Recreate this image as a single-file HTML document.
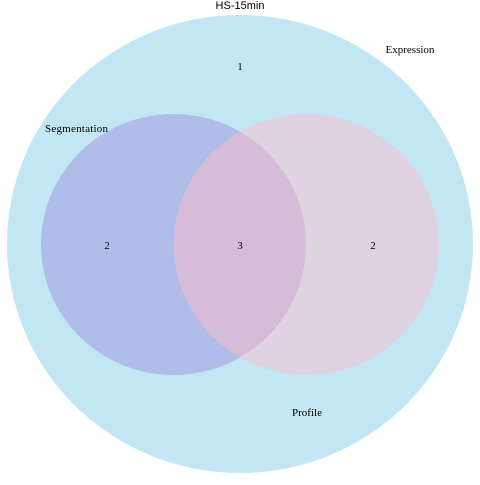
<!DOCTYPE html>
<html><head><meta charset="utf-8"><style>
body{margin:0;background:#fff;width:480px;height:480px;overflow:hidden}
svg text{font-family:"Liberation Serif",serif;font-size:11px;fill:#000}
</style></head><body>
<svg width="480" height="480">
<text x="240" y="9" text-anchor="middle" style="font-family:'Liberation Sans',sans-serif;font-size:11px">HS-15min</text>
<ellipse cx="240" cy="244" rx="233" ry="229" fill="#c2e6f3"/>
<ellipse cx="173.5" cy="244.5" rx="132.5" ry="130.5" fill="#b0bde8"/>
<ellipse cx="306.5" cy="244.5" rx="132.5" ry="130.5" fill="#e0d3e1"/>
<clipPath id="c"><ellipse cx="173.5" cy="244.5" rx="132.5" ry="130.5"/></clipPath>
<ellipse cx="306.5" cy="244.5" rx="132.5" ry="130.5" fill="#d6bcd9" clip-path="url(#c)"/>
<text x="410" y="53" text-anchor="middle">Expression</text>
<text x="45" y="132" text-anchor="start" textLength="63">Segmentation</text>
<text x="307" y="416" text-anchor="middle">Profile</text>
<text x="240" y="70" text-anchor="middle">1</text>
<text x="107" y="249" text-anchor="middle">2</text>
<text x="240" y="249" text-anchor="middle">3</text>
<text x="373" y="249" text-anchor="middle">2</text>
</svg>
</body></html>
